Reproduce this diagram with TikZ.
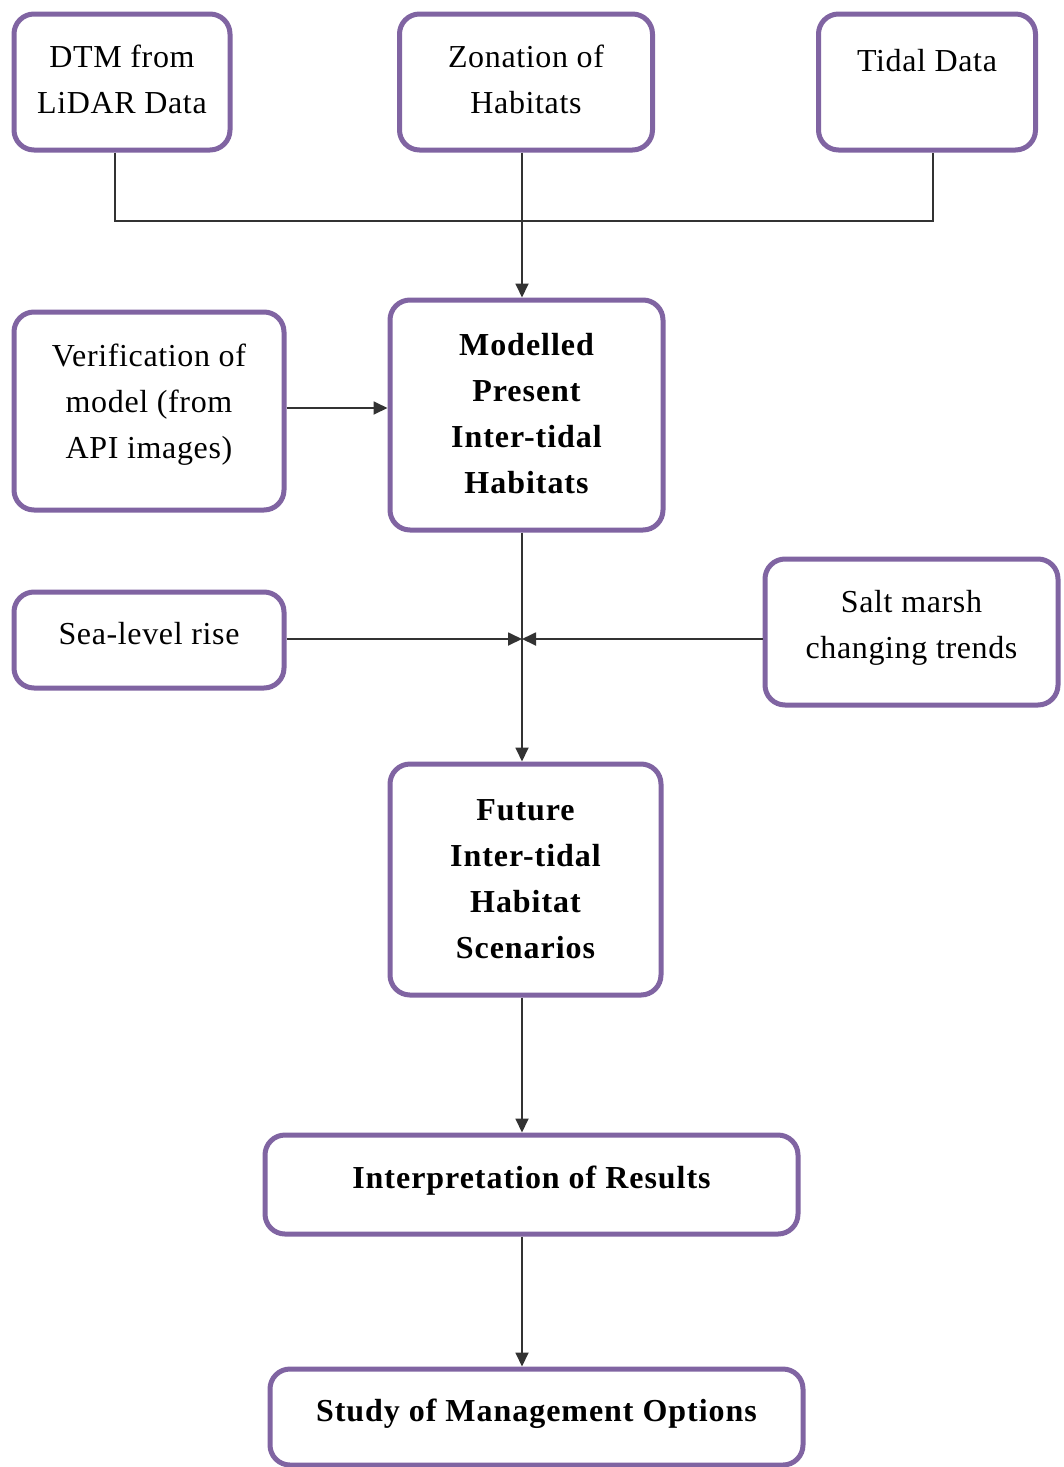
\documentclass[tikz,border=0pt]{standalone}
\usepackage{fontspec}
\setmainfont{Liberation Serif}
\usetikzlibrary{arrows.meta}
\definecolor{boxpurple}{HTML}{8064A2}
\definecolor{linegrey}{HTML}{333333}
\begin{document}
\begin{tikzpicture}[x=1pt,y=-1pt,
  box/.style={draw=boxpurple, line width=5pt, rounded corners=20pt, fill=white,
    align=center, inner sep=0pt,
    font=\fontsize{32}{46}\selectfont\addfontfeature{LetterSpace=2}},
  boldbox/.style={box,
    font=\fontsize{32}{46}\selectfont\bfseries\addfontfeature{LetterSpace=3}},
  link/.style={draw=linegrey, line width=1.8pt},
  arr/.style={link, -{Triangle[length=14pt,width=13pt]}}]
  \useasboundingbox (0,0) rectangle (1063,1467);

  % inputs along the top row
  \node[box, minimum width=216pt, minimum height=136pt] (dtm) at (122,82) {DTM from\\LiDAR Data\\[-40pt]\mbox{}};
  \node[box, minimum width=253pt, minimum height=136pt] (zon) at (526,82) {Zonation of\\Habitats\\[-40pt]\mbox{}};
  \node[box, minimum width=217pt, minimum height=136pt] (tid) at (927,82) {Tidal Data\\[-2pt]\mbox{}};

  % present-day model and its verification
  \node[box, minimum width=270pt, minimum height=198pt] (ver) at (149,411) {Verification of\\model (from\\API images)\\[-26pt]\mbox{}};
  \node[boldbox, minimum width=273pt, minimum height=230pt] (mod) at (526.5,415) {Modelled\\Present\\Inter-tidal\\Habitats\\[-42pt]\mbox{}};

  % drivers of change
  \node[box, minimum width=270pt, minimum height=96pt, text depth=14pt, text height=22pt] (sea) at (149,640) {Sea-level rise};
  \node[box, minimum width=293pt, minimum height=146pt] (salt) at (911.5,632) {Salt marsh\\changing trends\\[-30pt]\mbox{}};

  % future scenarios and follow-up
  \node[boldbox, minimum width=271pt, minimum height=231pt] (fut) at (525.5,879.5) {Future\\Inter-tidal\\Habitat\\Scenarios};
  \node[boldbox, minimum width=533pt, minimum height=99pt, text depth=14pt, text height=22pt] (int) at (531.5,1184.5) {Interpretation of Results};
  \node[boldbox, minimum width=533pt, minimum height=96pt, text depth=14pt, text height=22pt] (stu) at (536.5,1417) {Study of Management Options};

  % junctions
  \coordinate (j) at (522,221);
  \coordinate (m) at (522,639);

  % top inputs merge into the model
  \draw[link] ([xshift=-7pt]dtm.south) |- (j) -| ([xshift=6pt]tid.south);
  \draw[arr] (zon.south -| j) -- (mod.north -| j);
  \draw[arr] ([yshift=3pt]ver.east) -- ([yshift=3pt]ver.east -| mod.west);

  % model to future scenarios, with drivers joining the spine
  \draw[arr] (mod.south -| j) -- (fut.north -| j);
  \draw[arr] (sea.east |- m) -- (m);
  \draw[arr] (salt.west |- m) -- (m);

  % downstream steps
  \draw[arr] (fut.south -| j) -- (int.north -| j);
  \draw[arr] (int.south -| j) -- (stu.north -| j);
\end{tikzpicture}
\end{document}
